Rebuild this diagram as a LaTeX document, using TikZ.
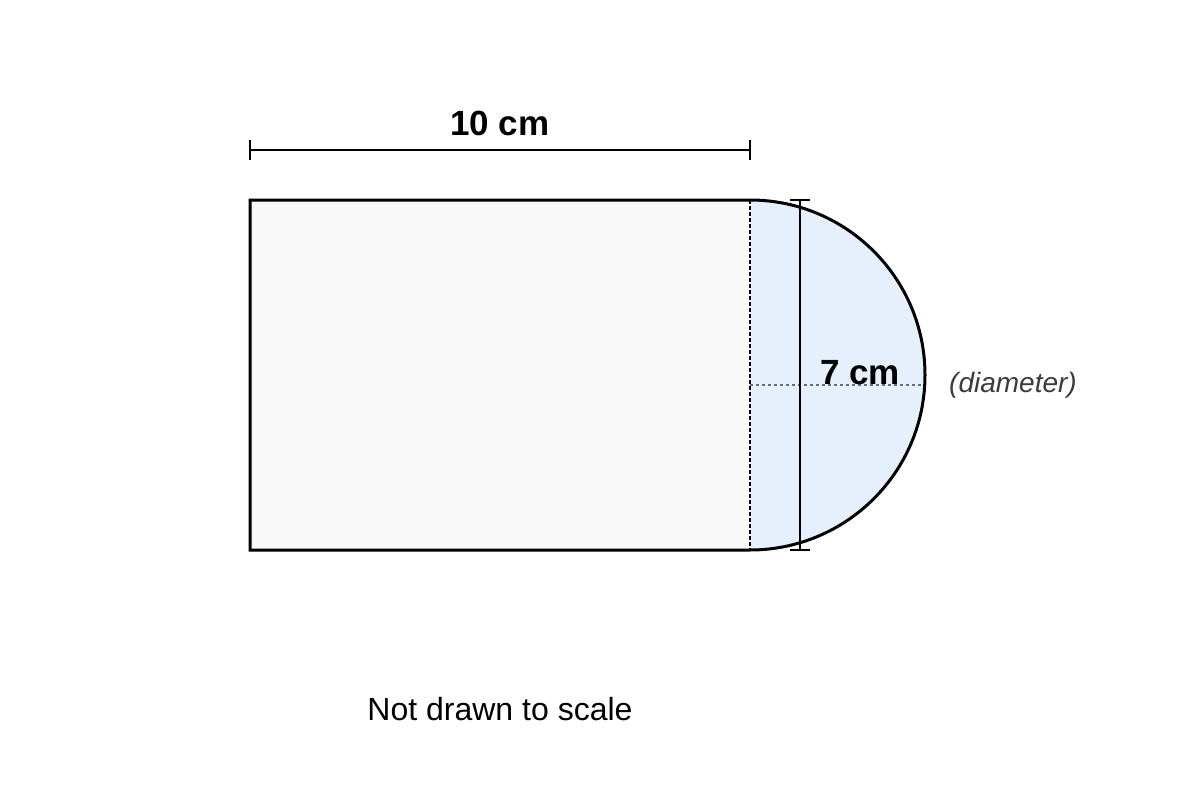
\documentclass[tikz,border=0pt]{standalone}
\usepackage{fontspec}
\setmainfont{Liberation Sans}
\usepackage{xcolor}
\usetikzlibrary{positioning}
\definecolor{rectfill}{RGB}{249,249,249}
\definecolor{capfill}{RGB}{230,240,253}
\definecolor{notegray}{RGB}{60,60,60}
\definecolor{dotgray}{RGB}{100,110,130}
\tikzset{
  outline/.style={line width=3pt,line join=miter},
  dimline/.style={line width=2pt},
  dimtick/.style={line width=1.6pt},
  dimlabel/.style={font=\fontsize{35}{40}\selectfont\bfseries,inner sep=0pt},
}
\begin{document}
\begin{tikzpicture}[x=1pt,y=-1pt]
\useasboundingbox[fill=white] (0,0) rectangle (1200,800);
% corners
\coordinate (tl) at (250,200);
\coordinate (tr) at (750,200);
\coordinate (bl) at (250,550);
\coordinate (br) at (750,550);
\coordinate (mid) at (750,385);
\coordinate (edge) at (925,385);
% fills
\fill[rectfill] (tl) rectangle (br);
\fill[capfill] (tr) arc[start angle=-90,end angle=90,radius=175] -- cycle;
% dashed join
\draw[line width=1.2pt,dash pattern=on 4pt off 2pt] (tr) -- (br);
% diameter
\draw[dotgray,line width=1.2pt,dash pattern=on 3pt off 3pt] (mid) -- (edge);
% outline
\draw[outline] (tr) -- (tl) -- (bl) -- (br)
  arc[start angle=90,end angle=-90,radius=175];
% 10 cm
\coordinate (wl) at (250,150);
\coordinate (wr) at (750,150);
\draw[dimline] (wl) -- (wr);
\draw[dimtick] ([yshift=-10pt]wl) -- ([yshift=10pt]wl);
\draw[dimtick] ([yshift=-10pt]wr) -- ([yshift=10pt]wr);
\node[dimlabel] (wlab) at (500,123) {10 cm};
% 7 cm
\coordinate (ht) at (800,200);
\coordinate (hb) at (800,550);
\draw[dimline] (ht) -- (hb);
\draw[dimtick] ([xshift=-10pt]ht) -- ([xshift=10pt]ht);
\draw[dimtick] ([xshift=-10pt]hb) -- ([xshift=10pt]hb);
\node[dimlabel] (hlab) at (860,373) {7 cm};
\node[notegray,font=\fontsize{28}{32}\selectfont\itshape,inner sep=0pt] (dlab) at (1013,385) {(diameter)};
% note
\node[font=\fontsize{32}{38}\selectfont,inner sep=0pt] (note) at (500,709) {Not drawn to scale};
\end{tikzpicture}
\end{document}
